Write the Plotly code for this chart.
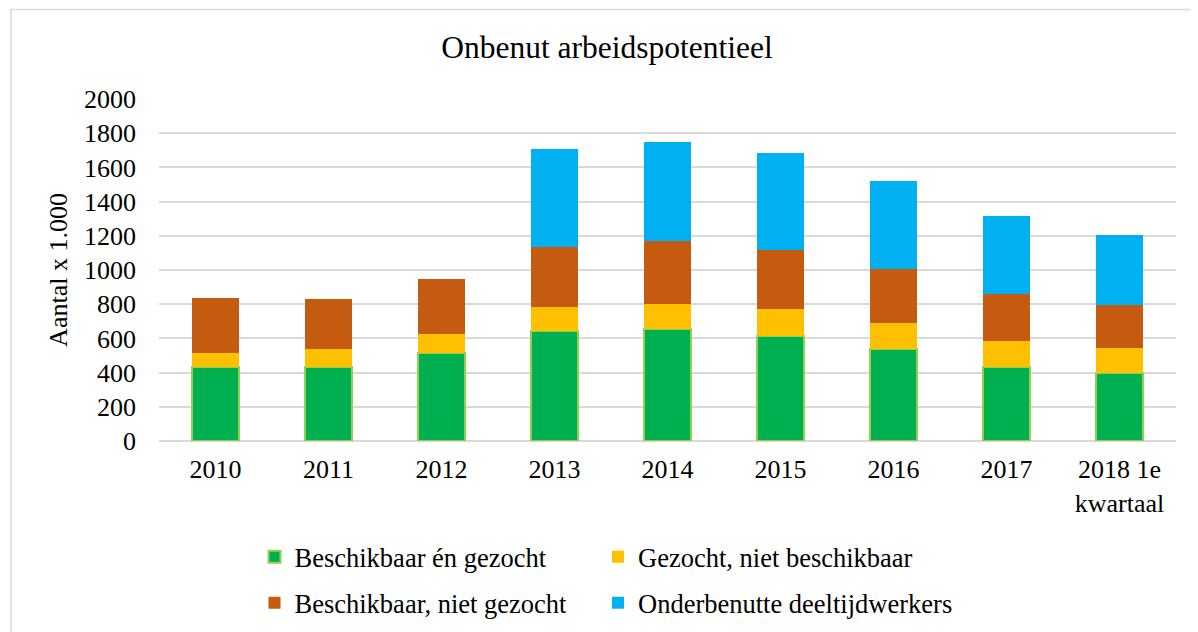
import plotly.graph_objects as go

categories = ["2010", "2011", "2012", "2013", "2014", "2015", "2016", "2017", "2018 1e<br>kwartaal"]
beschikbaar_gezocht = [433, 431, 513, 645, 657, 614, 536, 432, 395]
gezocht_niet_beschikbaar = [84, 108, 112, 136, 146, 156, 152, 155, 148]
beschikbaar_niet_gezocht = [320, 294, 320, 356, 367, 347, 320, 272, 254]
onderbenutte_deeltijd = [0, 0, 0, 569, 581, 566, 511, 457, 406]

series_names = ["Beschikbaar én gezocht", "Gezocht, niet beschikbaar",
                "Beschikbaar, niet gezocht", "Onderbenutte deeltijdwerkers"]
colors = ["#00B050", "#FFC000", "#C55A11", "#00B0F0"]
line_colors = ["#92D050", "#FFD966", "#E8A070", "#7FD8F8"]
line_widths = [2, 0, 0, 0]
legends = ["legend", "legend2", "legend3", "legend4"]
values = [beschikbaar_gezocht, gezocht_niet_beschikbaar, beschikbaar_niet_gezocht, onderbenutte_deeltijd]

FONT = "Liberation Serif, Times New Roman, serif"

fig = go.Figure()
for name, vals, c, lc, lw, lg in zip(series_names, values, colors, line_colors, line_widths, legends):
    fig.add_trace(go.Bar(
        x=categories, y=vals, name=name,
        marker=dict(color=c, line=dict(color=lc, width=lw)),
        width=0.41, legend=lg,
    ))

W, H = 1198, 632
OFF = 8  # page body margin offset
L, R, T, B = 159 - OFF, 22 + OFF, 99 - OFF, 191 + OFF


def legend_at(px, py):
    # px: reference page x of legend text start; py: reference page y of row centre
    return dict(orientation="h", xref="container", yref="container",
                x=(px - 40 - OFF) / W, xanchor="left",
                y=1 - (py - OFF) / H, yanchor="middle",
                font=dict(family=FONT, size=26.5, color="black"),
                bgcolor="rgba(0,0,0,0)")


fig.update_layout(
    width=W, height=H,
    barmode="stack",
    paper_bgcolor="white", plot_bgcolor="white",
    margin=dict(l=L, r=R, t=T, b=B),
    font=dict(family=FONT, size=26, color="black"),
    title=dict(text="Onbenut arbeidspotentieel", x=(607 - OFF) / W, xanchor="center",
               xref="container", y=1 - (47 - OFF) / H, yanchor="middle", yref="container",
               font=dict(family=FONT, size=31.5, color="black")),
    legend=legend_at(294.5, 557),
    legend2=legend_at(638, 557),
    legend3=legend_at(294.5, 603),
    legend4=legend_at(638, 603),
    showlegend=True,
)

fig.update_yaxes(
    range=[0, 2000], dtick=200, tick0=0,
    showgrid=True, gridcolor="#D9D9D9", gridwidth=1.5,
    zeroline=True, zerolinecolor="#D9D9D9", zerolinewidth=1.5,
    showline=False, ticks="", ticklabelstandoff=22,
    tickfont=dict(family=FONT, size=26, color="black"),
    title=dict(text="Aantal x 1.000", standoff=8,
               font=dict(family=FONT, size=26, color="black")),
)
fig.update_xaxes(
    showgrid=False, showline=False, ticks="", ticklabelstandoff=10,
    tickfont=dict(family=FONT, size=26, color="black"),
)

# outer chart border (light gray)
pw, ph = W - L - R, H - T - B
fig.add_shape(type="rect", xref="paper", yref="paper",
              x0=(11 - OFF - L) / pw, x1=(W + 20 - L) / pw,
              y0=(H - B - (H + 20)) / ph, y1=(H - B - (9.5 - OFF)) / ph,
              line=dict(color="#D9D9D9", width=1.5), fillcolor="rgba(0,0,0,0)",
              layer="below")

fig.write_html("out.html")
